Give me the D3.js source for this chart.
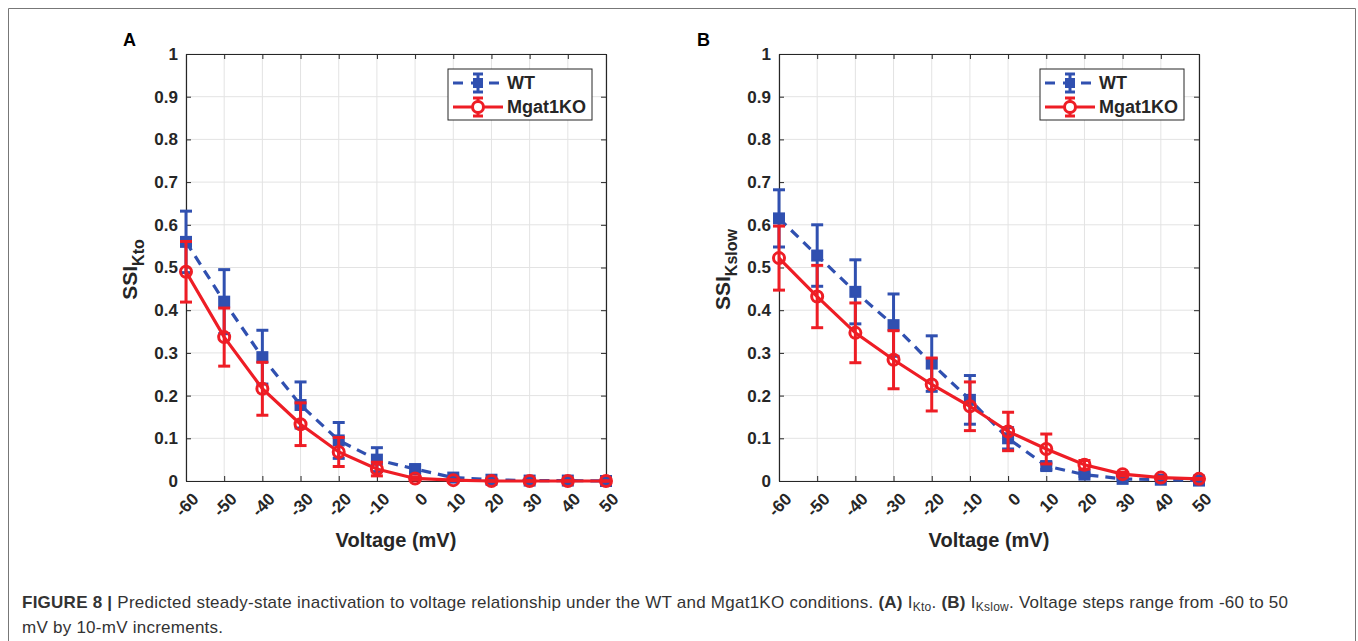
<!DOCTYPE html>
<html>
<head>
<meta charset="utf-8">
<script src="https://cdn.jsdelivr.net/npm/d3@7"></script>
<style>
  body { margin: 0; background: #fff; }
  text { font-family: "Liberation Sans", Arial, sans-serif; }
</style>
</head>
<body>
<div id="chart"></div>
<script>
// voltage steps (mV)
var voltages = [-60, -50, -40, -30, -20, -10, 0, 10, 20, 30, 40, 50];
var yTicks = [0, 0.1, 0.2, 0.3, 0.4, 0.5, 0.6, 0.7, 0.8, 0.9, 1];

// panel A : I_Kto
var ktoWT = [0.560, 0.420, 0.290, 0.178, 0.095, 0.050, 0.028, 0.008, 0.003, 0.001, 0.001, 0.000];
var ktoWTErr = [0.072, 0.075, 0.063, 0.054, 0.042, 0.028, 0.008, 0.003, 0.001, 0.000, 0.000, 0.000];
var ktoKO = [0.490, 0.337, 0.216, 0.133, 0.068, 0.028, 0.006, 0.002, 0.000, 0.000, 0.000, 0.000];
var ktoKOErr = [0.071, 0.068, 0.062, 0.050, 0.034, 0.016, 0.004, 0.001, 0.000, 0.000, 0.000, 0.000];

// panel B : I_Kslow
var kslowWT = [0.615, 0.528, 0.443, 0.365, 0.275, 0.190, 0.100, 0.035, 0.015, 0.005, 0.003, 0.001];
var kslowWTErr = [0.067, 0.072, 0.075, 0.073, 0.065, 0.057, 0.025, 0.008, 0.004, 0.002, 0.001, 0.000];
var kslowKO = [0.522, 0.432, 0.347, 0.284, 0.226, 0.175, 0.116, 0.075, 0.038, 0.016, 0.008, 0.005];
var kslowKOErr = [0.075, 0.073, 0.070, 0.068, 0.062, 0.057, 0.045, 0.035, 0.010, 0.004, 0.002, 0.001];

var W = 1358, H = 641;
var blue = "#3050b0", red = "#ee1d25", ink = "#262626";

var svg = d3.select("#chart").append("svg")
    .attr("width", W)
    .attr("height", H);

// outer figure frame (open at the bottom)
svg.append("path")
    .attr("d", "M8.5," + H + "V8.5H1355.5V" + H)
    .attr("fill", "none")
    .attr("stroke", "#777")
    .attr("stroke-width", 1);

function drawPanel(opts) {
    var left = opts.left, right = opts.right, top = 54, bottom = 481;
    var x = d3.scaleLinear().domain([-60, 50]).range([left, right]);
    var y = d3.scaleLinear().domain([0, 1]).range([bottom, top]);
    var g = svg.append("g");

    // grid
    g.append("g").selectAll("line").data(voltages).join("line")
        .attr("x1", function (d) { return x(d); }).attr("x2", function (d) { return x(d); })
        .attr("y1", top).attr("y2", bottom)
        .attr("stroke", "#e3e3e3").attr("stroke-width", 1);
    g.append("g").selectAll("line").data(yTicks).join("line")
        .attr("y1", function (d) { return y(d); }).attr("y2", function (d) { return y(d); })
        .attr("x1", left).attr("x2", right)
        .attr("stroke", "#e3e3e3").attr("stroke-width", 1);

    // axes, ticks pointing inward (box on)
    var xAxis = d3.axisBottom(x).tickValues(voltages).tickSize(-5).tickSizeOuter(0)
        .tickFormat(function (d) { return String(d); });
    var yAxis = d3.axisLeft(y).tickValues(yTicks).tickSize(-5).tickSizeOuter(0).tickPadding(8)
        .tickFormat(function (d) { return d === 0 || d === 1 ? String(d) : d3.format(".1f")(d); });
    var xTop = d3.axisTop(x).tickValues(voltages).tickSize(-5).tickSizeOuter(0).tickFormat("");
    var yRight = d3.axisRight(y).tickValues(yTicks).tickSize(-5).tickSizeOuter(0).tickFormat("");

    var gx = g.append("g").attr("transform", "translate(0," + bottom + ")").call(xAxis);
    gx.selectAll("text")
        .attr("text-anchor", "end")
        .attr("dy", null).attr("y", null)
        .attr("transform", "translate(10,16) rotate(-45)")
        .attr("dominant-baseline", "middle");
    g.append("g").attr("transform", "translate(" + left + ",0)").call(yAxis);
    g.append("g").attr("transform", "translate(0," + top + ")").call(xTop);
    g.append("g").attr("transform", "translate(" + right + ",0)").call(yRight);

    g.selectAll(".domain").attr("stroke", ink).attr("stroke-width", 1.2);
    g.selectAll(".tick line").attr("stroke", ink).attr("stroke-width", 1);
    g.selectAll(".tick text").attr("fill", ink).attr("font-size", 17).attr("font-weight", "bold");

    // axis labels
    g.append("text")
        .attr("x", (left + right) / 2).attr("y", 547)
        .attr("text-anchor", "middle")
        .attr("font-size", 20).attr("font-weight", "bold").attr("fill", ink)
        .text("Voltage (mV)");
    var yl = g.append("text")
        .attr("transform", "translate(" + (left - 49) + "," + ((top + bottom) / 2 + 2) + ") rotate(-90)")
        .attr("text-anchor", "middle")
        .attr("font-weight", "bold").attr("fill", ink);
    yl.append("tspan").attr("font-size", 21).text("SSI");
    yl.append("tspan").attr("font-size", 16).attr("dy", 7).text(opts.sub);

    // panel letter
    g.append("text")
        .attr("x", opts.letterX).attr("y", 46)
        .attr("font-size", 18).attr("font-weight", "bold").attr("fill", "#000")
        .text(opts.letter);

    // series: WT first, Mgat1KO drawn on top
    var series = [
        { vals: opts.wt, err: opts.wtErr, color: blue, dash: "10,7", marker: "square" },
        { vals: opts.ko, err: opts.koErr, color: red, dash: null, marker: "circle" }
    ];
    series.forEach(function (s) {
        var pts = voltages.map(function (v, i) { return { v: v, m: s.vals[i], e: s.err[i] }; });
        var sg = g.append("g");
        sg.append("path").datum(pts)
            .attr("d", d3.line().x(function (d) { return x(d.v); }).y(function (d) { return y(d.m); }))
            .attr("fill", "none").attr("stroke", s.color).attr("stroke-width", 3.2)
            .attr("stroke-dasharray", s.dash);
        // error bars
        var eb = sg.append("g").selectAll("g").data(pts).join("g")
            .attr("stroke", s.color).attr("stroke-width", 3);
        eb.append("line")
            .attr("x1", function (d) { return x(d.v); }).attr("x2", function (d) { return x(d.v); })
            .attr("y1", function (d) { return y(d.m - d.e); }).attr("y2", function (d) { return y(d.m + d.e); });
        [-1, 1].forEach(function (sgn) {
            eb.append("line")
                .attr("x1", function (d) { return x(d.v) - 6; }).attr("x2", function (d) { return x(d.v) + 6; })
                .attr("y1", function (d) { return y(d.m + sgn * d.e); }).attr("y2", function (d) { return y(d.m + sgn * d.e); });
        });
        if (s.marker === "square") {
            sg.append("g").selectAll("rect").data(pts).join("rect")
                .attr("x", function (d) { return x(d.v) - 5; }).attr("y", function (d) { return y(d.m) - 5; })
                .attr("width", 10).attr("height", 10)
                .attr("fill", s.color).attr("stroke", s.color).attr("stroke-width", 2);
        } else {
            sg.append("g").selectAll("circle").data(pts).join("circle")
                .attr("cx", function (d) { return x(d.v); }).attr("cy", function (d) { return y(d.m); })
                .attr("r", 5.5)
                .attr("fill", "none").attr("stroke", s.color).attr("stroke-width", 3);
        }
    });

    // legend
    var lx = opts.legendX, ly = 69;
    var lg = g.append("g");
    lg.append("rect").attr("x", lx).attr("y", ly).attr("width", 144).attr("height", 51)
        .attr("fill", "#fff").attr("stroke", ink).attr("stroke-width", 1);
    series.forEach(function (s, i) {
        var yy = ly + 14 + i * 24, cx = lx + 30;
        lg.append("line").attr("x1", lx + 5).attr("x2", lx + 55).attr("y1", yy).attr("y2", yy)
            .attr("stroke", s.color).attr("stroke-width", 3.2).attr("stroke-dasharray", s.dash ? "10,8" : null);
        lg.append("line").attr("x1", cx).attr("x2", cx).attr("y1", yy - 9).attr("y2", yy + 9)
            .attr("stroke", s.color).attr("stroke-width", 3);
        lg.append("line").attr("x1", cx - 5).attr("x2", cx + 5).attr("y1", yy - 9).attr("y2", yy - 9)
            .attr("stroke", s.color).attr("stroke-width", 3);
        lg.append("line").attr("x1", cx - 5).attr("x2", cx + 5).attr("y1", yy + 9).attr("y2", yy + 9)
            .attr("stroke", s.color).attr("stroke-width", 3);
        if (s.marker === "square") {
            lg.append("rect").attr("x", cx - 5).attr("y", yy - 5).attr("width", 10).attr("height", 10)
                .attr("fill", s.color);
        } else {
            lg.append("circle").attr("cx", cx).attr("cy", yy).attr("r", 5.5)
                .attr("fill", "#fff").attr("stroke", s.color).attr("stroke-width", 3);
        }
        lg.append("text").attr("x", lx + 59).attr("y", yy)
            .attr("dominant-baseline", "central")
            .attr("font-size", 18).attr("font-weight", "bold").attr("fill", ink)
            .text(i === 0 ? "WT" : "Mgat1KO");
    });
}

drawPanel({ left: 186, right: 606, letter: "A", letterX: 123, sub: "Kto", legendX: 448,
    wt: ktoWT, wtErr: ktoWTErr, ko: ktoKO, koErr: ktoKOErr });
drawPanel({ left: 779, right: 1199, letter: "B", letterX: 697, sub: "Kslow", legendX: 1040,
    wt: kslowWT, wtErr: kslowWTErr, ko: kslowKO, koErr: kslowKOErr });

// caption
var capStyle = function (t) {
    return t.attr("font-size", 17).attr("letter-spacing", 0.25).attr("fill", "#333");
};
var cap = capStyle(svg.append("text").attr("x", 22).attr("y", 608));
cap.append("tspan").attr("font-weight", "bold").text("FIGURE 8 | ");
cap.append("tspan").text("Predicted steady-state inactivation to voltage relationship under the WT and Mgat1KO conditions. ");
cap.append("tspan").attr("font-weight", "bold").text("(A)");
cap.append("tspan").text(" I");
cap.append("tspan").attr("font-size", 12).attr("dy", 3).text("Kto");
cap.append("tspan").attr("dy", -3).text(". ");
cap.append("tspan").attr("font-weight", "bold").text("(B)");
cap.append("tspan").text(" I");
cap.append("tspan").attr("font-size", 12).attr("dy", 3).text("Kslow");
cap.append("tspan").attr("dy", -3).text(". Voltage steps range from -60 to 50");
capStyle(svg.append("text").attr("x", 22).attr("y", 633))
    .text("mV by 10-mV increments.");
</script>
</body>
</html>
